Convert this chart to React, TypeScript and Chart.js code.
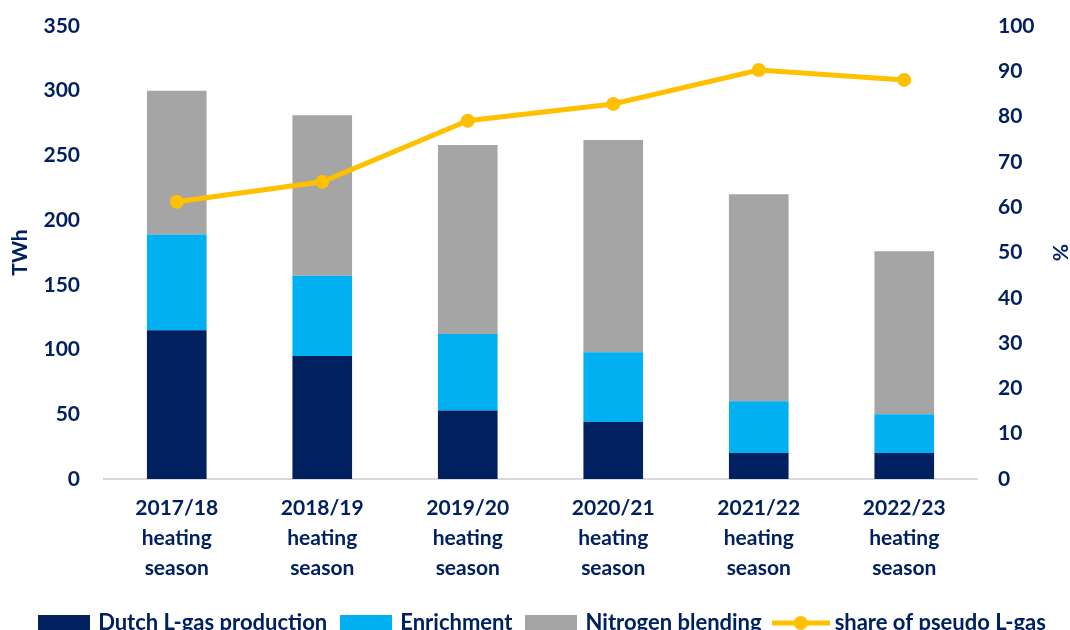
import React, { useEffect, useRef } from "react";
import { Chart, registerables } from "chart.js";

Chart.register(...registerables);

const categories: string[][] = [
  ["2017/18", "heating", "season"],
  ["2018/19", "heating", "season"],
  ["2019/20", "heating", "season"],
  ["2020/21", "heating", "season"],
  ["2021/22", "heating", "season"],
  ["2022/23", "heating", "season"],
];
const dutchProduction = [115, 95, 53, 44, 20, 20];
const enrichment = [74, 62, 59, 54, 40, 30];
const nitrogenBlending = [111, 124, 146, 164, 160, 126];
const sharePseudo = [61.2, 65.6, 79.1, 82.8, 90.3, 88.1];

const NAVY = "#002060";
const FONT = "Lato";
const WEIGHT: any = "bold";

function boxImage(color: string, w: number, h: number) {
  const c = document.createElement("canvas");
  c.width = w;
  c.height = h;
  const g = c.getContext("2d")!;
  g.fillStyle = color;
  g.fillRect(0, 0, w, h);
  return c;
}
function lineImage(color: string, w: number, h: number) {
  const c = document.createElement("canvas");
  c.width = w;
  c.height = h;
  const g = c.getContext("2d")!;
  g.strokeStyle = color;
  g.lineWidth = 5;
  g.beginPath();
  g.moveTo(0, h / 2);
  g.lineTo(w, h / 2);
  g.stroke();
  g.fillStyle = color;
  g.beginPath();
  g.arc(w / 2, h / 2, 7, 0, Math.PI * 2);
  g.fill();
  return c;
}

const fixPad = (s: any, w: number) => {
  s.width = w;
  s.paddingTop = 0;
  s.paddingBottom = 0;
};

export default function App() {
  const ref = useRef<HTMLCanvasElement>(null);
  useEffect(() => {
    document.body.style.margin = "0";
    document.body.style.overflow = "hidden";
    const legendImgs = [
      boxImage(NAVY, 52, 17),
      boxImage("#00B0F0", 52, 17),
      boxImage("#A5A5A5", 52, 17),
      lineImage("#FFC000", 58, 16),
    ];
    const chart = new Chart(ref.current!, {
      type: "bar",
      data: {
        labels: categories,
        datasets: [
          {
            label: "Dutch L-gas production",
            data: dutchProduction,
            backgroundColor: NAVY,
            stack: "s",
            order: 1,
            yAxisID: "y",
          },
          {
            label: "Enrichment",
            data: enrichment,
            backgroundColor: "#00B0F0",
            stack: "s",
            order: 1,
            yAxisID: "y",
          },
          {
            label: "Nitrogen blending",
            data: nitrogenBlending,
            backgroundColor: "#A5A5A5",
            stack: "s",
            order: 1,
            yAxisID: "y",
          },
          {
            type: "line",
            label: "share of pseudo L-gas",
            data: sharePseudo,
            borderColor: "#FFC000",
            backgroundColor: "#FFC000",
            borderWidth: 5,
            pointRadius: 7,
            pointBorderWidth: 0,
            pointBackgroundColor: "#FFC000",
            tension: 0,
            order: 0,
            yAxisID: "y1",
          } as any,
        ],
      },
      options: {
        responsive: false,
        animation: false,
        layout: { padding: { left: 17, right: 0, top: 26, bottom: 0 } },
        datasets: {
          bar: { barPercentage: 0.41, categoryPercentage: 1 },
        },
        plugins: {
          tooltip: { enabled: false },
          legend: {
            position: "bottom",
            labels: {
              usePointStyle: true,
              pointStyleWidth: 46,
              padding: 16,
              color: NAVY,
              font: { family: FONT, size: 22, weight: WEIGHT },
              generateLabels: (ch: any) => {
                const items = Chart.defaults.plugins.legend.labels.generateLabels(ch);
                items.sort((a: any, b: any) => a.datasetIndex - b.datasetIndex);
                return items.map((it: any) => ({ ...it, pointStyle: legendImgs[it.datasetIndex] }));
              },
            },
          },
        },
        scales: {
          x: {
            stacked: true,
            grid: { display: false, drawTicks: false },
            border: { display: true, color: "#D9D9D9", width: 2 },
            ticks: {
              color: NAVY,
              padding: 14,
              maxRotation: 0,
              autoSkip: false,
              font: { family: FONT, size: 21, weight: WEIGHT, lineHeight: 1.43 },
            },
            afterFit: (s: any) => {
              s.height = 117;
            },
          },
          y: {
            stacked: true,
            position: "left",
            min: 0,
            max: 350,
            grid: { display: false, drawTicks: false },
            border: { display: false },
            ticks: {
              stepSize: 50,
              color: NAVY,
              padding: 24,
              font: { family: FONT, size: 21, weight: WEIGHT },
            },
            title: {
              display: true,
              text: "TWh",
              color: NAVY,
              padding: { top: -7, bottom: 0 },
              font: { family: FONT, size: 21, weight: WEIGHT, lineHeight: 1 },
            },
            afterFit: (s: any) => fixPad(s, 87),
          },
          y1: {
            position: "right",
            min: 0,
            max: 100,
            grid: { display: false, drawTicks: false },
            border: { display: false },
            ticks: {
              stepSize: 10,
              color: NAVY,
              padding: 21,
              font: { family: FONT, size: 21, weight: WEIGHT },
            },
            title: {
              display: true,
              text: "%",
              color: NAVY,
              padding: { top: 0, bottom: 0 },
              font: { family: FONT, size: 21, weight: WEIGHT, lineHeight: 1 },
            },
            afterFit: (s: any) => fixPad(s, 93),
          },
        },
      },
    });
    return () => chart.destroy();
  }, []);
  return (
    <div style={{ position: "fixed", left: 0, top: 0, width: 1070, height: 644 }}>
      <canvas ref={ref} width={1070} height={644} />
    </div>
  );
}
